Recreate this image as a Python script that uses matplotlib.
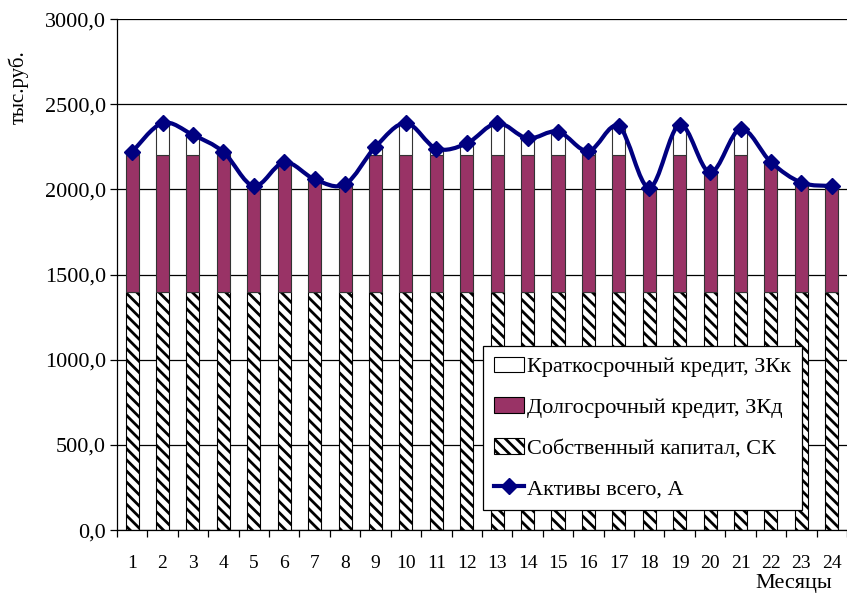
import matplotlib
matplotlib.use("Agg")
import numpy as np
from matplotlib import pyplot as plt
from matplotlib.path import Path
from matplotlib.patches import PathPatch, Patch
from matplotlib.lines import Line2D
from matplotlib.ticker import FuncFormatter, MultipleLocator

plt.rcParams['font.family'] = ['Liberation Serif', 'DejaVu Serif']
plt.rcParams['hatch.linewidth'] = 2.0

months = list(range(1, 24 + 1))
equity = [1400] * 24
long_credit = [800, 800, 800, 800, 620, 750, 660, 630, 800, 800, 800, 800,
               800, 800, 800, 800, 800, 610, 800, 700, 800, 750, 640, 620]
short_credit = [20, 190, 120, 20, 0, 10, 0, 0, 50, 190, 40, 70,
                190, 100, 140, 25, 170, 0, 180, 0, 155, 10, 0, 0]
assets = [e + l + s for e, l, s in zip(equity, long_credit, short_credit)]

plum = '#993366'
navy = '#000080'

fig = plt.figure(figsize=(8.47, 5.97), dpi=100)
ax = fig.add_axes([0.138, 0.112, 0.862, 0.856])

x = np.array(months)
w = 0.43
ax.bar(x, equity, w, color='white', edgecolor='black', hatch='\\\\\\', linewidth=0.8, zorder=2)
ax.bar(x, long_credit, w, bottom=equity, color=plum, edgecolor='#333333', linewidth=0.8, zorder=2)
bottom2 = [e + l for e, l in zip(equity, long_credit)]
ax.bar(x, short_credit, w, bottom=bottom2, color='white', edgecolor='#333333', linewidth=0.8, zorder=2)

# smoothed line through the totals (Catmull-Rom -> cubic Bezier)
pts = np.column_stack([x, assets]).astype(float)
verts = [tuple(pts[0])]
codes = [Path.MOVETO]
for i in range(len(pts) - 1):
    p0 = pts[i - 1] if i > 0 else pts[i]
    p1, p2 = pts[i], pts[i + 1]
    p3 = pts[i + 2] if i + 2 < len(pts) else pts[i + 1]
    c1 = p1 + (p2 - p0) / 6.0
    c2 = p2 - (p3 - p1) / 6.0
    verts += [tuple(c1), tuple(c2), tuple(p2)]
    codes += [Path.CURVE4] * 3
ax.add_patch(PathPatch(Path(verts, codes), facecolor='none', edgecolor=navy, lw=3, zorder=3))
ax.plot(x, assets, linestyle='none', marker='D', ms=8, color=navy, zorder=4)

ax.set_xlim(0.5, 24.5)
ax.set_ylim(0, 3000)
ax.yaxis.set_major_locator(MultipleLocator(500))
ax.yaxis.set_major_formatter(FuncFormatter(lambda v, p: f"{v:.1f}".replace('.', ',')))
ax.grid(axis='y', color='black', linewidth=0.9, zorder=0)
ax.set_xticks(months)
ax.set_xticks(np.arange(0.5, 25, 1), minor=True)
ax.tick_params(axis='x', which='major', length=0, pad=18, labelsize=14)
ax.tick_params(axis='x', which='minor', length=5, width=0.9, direction='out')
ax.tick_params(axis='y', length=5, width=0.9, direction='out', labelsize=16, pad=3)
for s in ['top', 'right']:
    ax.spines[s].set_visible(False)
ax.spines['left'].set_linewidth(0.9)
ax.spines['bottom'].set_linewidth(0.9)

fig.text(0.022, 0.915, 'тыс.руб.', rotation=90, fontsize=15, va='top', ha='center')
fig.text(0.983, 0.006, 'Месяцы', fontsize=16, ha='right', va='bottom')

handles = [
    Patch(facecolor='white', edgecolor='black', linewidth=0.8),
    Patch(facecolor=plum, edgecolor='black', linewidth=0.8),
    Patch(facecolor='white', edgecolor='black', hatch='\\\\\\', linewidth=0.8),
    Line2D([], [], color=navy, lw=3, marker='D', ms=8),
]
labels = ['Краткосрочный кредит, ЗКк', 'Долгосрочный кредит, ЗКд',
          'Собственный капитал, СК', 'Активы всего, А']
leg = ax.legend(handles, labels, loc='lower left', bbox_to_anchor=(0.501, 0.039),
                fontsize=16, frameon=True, fancybox=False, edgecolor='black',
                framealpha=1, borderpad=0.5, labelspacing=0.9, handlelength=1.35,
                handletextpad=0.15, borderaxespad=0)
leg.get_frame().set_linewidth(0.9)
leg.set_zorder(5)

fig.savefig('out.png', dpi=100)
